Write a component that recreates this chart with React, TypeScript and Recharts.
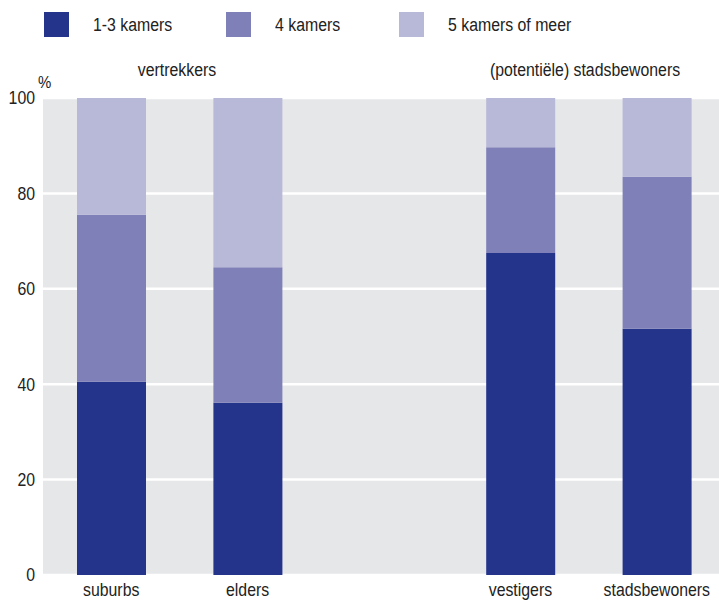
import React from 'react'
import { BarChart, Bar, XAxis, YAxis, CartesianGrid } from 'recharts'

const categories = ['suburbs', 'elders', '', 'vestigers', 'stadsbewoners']
const kamers13 = [40.5, 36.1, null, 67.5, 51.6]
const kamers4 = [35.0, 28.4, null, 22.2, 31.9]
const kamers5 = [24.5, 35.5, null, 10.3, 16.5]
const yTicks = [0, 20, 40, 60, 80, 100]

const seriesNames = ['1-3 kamers', '4 kamers', '5 kamers of meer']
const COLORS = ['#25348B', '#8080B8', '#B8B8D9']
const FONT = '"Liberation Sans", Arial, sans-serif'
const SQX = 0.88

const data = categories.map((c, i) => ({
  name: c,
  k13: kamers13[i],
  k4: kamers4[i],
  k5: kamers5[i],
}))

// narrow text: regular font squeezed horizontally
function NarrowText({ children, style }: { children: React.ReactNode; style: React.CSSProperties }) {
  return (
    <div style={{ position: 'absolute', fontSize: 18, lineHeight: '22px', color: '#222', whiteSpace: 'nowrap', transform: `scaleX(${SQX})`, ...style }}>
      {children}
    </div>
  )
}

function XTick(props: any) {
  const { x, y, payload } = props
  return (
    <g transform={`translate(${x},${y}) scale(${SQX},1)`}>
      <text x={0} y={0} dy="0.71em" textAnchor="middle" fill="#222" fontSize={18} fontFamily={FONT}>
        {payload.value}
      </text>
    </g>
  )
}

function YTick(props: any) {
  const { x, y, payload } = props
  return (
    <g transform={`translate(${x},${y}) scale(${SQX},1)`}>
      <text x={0} y={0} dy="0.355em" textAnchor="end" fill="#222" fontSize={18} fontFamily={FONT}>
        {payload.value}
      </text>
    </g>
  )
}

export default function App() {
  const legendX = [44, 226, 399]
  return (
    <div style={{ position: 'absolute', left: 0, top: 0, width: 719, height: 600, overflow: 'hidden', fontFamily: FONT }}>
      <BarChart
        width={725}
        height={600}
        data={data}
        margin={{ top: 98, right: 0, left: 0, bottom: 5 }}
        barSize={69}
      >
        <CartesianGrid vertical={false} fill="#E6E7E9" stroke="#FFFFFF" strokeWidth={2.5} />
        <XAxis dataKey="name" axisLine={false} tickLine={false} height={20} tick={<XTick />} />
        <YAxis domain={[0, 100]} ticks={yTicks} width={43} axisLine={false} tickLine={false} tick={<YTick />} />
        <Bar dataKey="k13" stackId="a" fill={COLORS[0]} isAnimationActive={false} />
        <Bar dataKey="k4" stackId="a" fill={COLORS[1]} isAnimationActive={false} />
        <Bar dataKey="k5" stackId="a" fill={COLORS[2]} isAnimationActive={false} />
      </BarChart>
      {seriesNames.map((n, i) => (
        <React.Fragment key={n}>
          <div style={{ position: 'absolute', left: legendX[i], top: 12, width: 25, height: 25, background: COLORS[i] }} />
          <NarrowText style={{ left: legendX[i] + 49, top: 14, transformOrigin: 'left center' }}>{n}</NarrowText>
        </React.Fragment>
      ))}
      <NarrowText style={{ left: 38, top: 72, fontSize: 17, transformOrigin: 'left center' }}>%</NarrowText>
      <NarrowText style={{ left: 77, width: 200, textAlign: 'center', top: 59 }}>vertrekkers</NarrowText>
      <NarrowText style={{ left: 435, width: 300, textAlign: 'center', top: 59 }}>(potentiële) stadsbewoners</NarrowText>
    </div>
  )
}
